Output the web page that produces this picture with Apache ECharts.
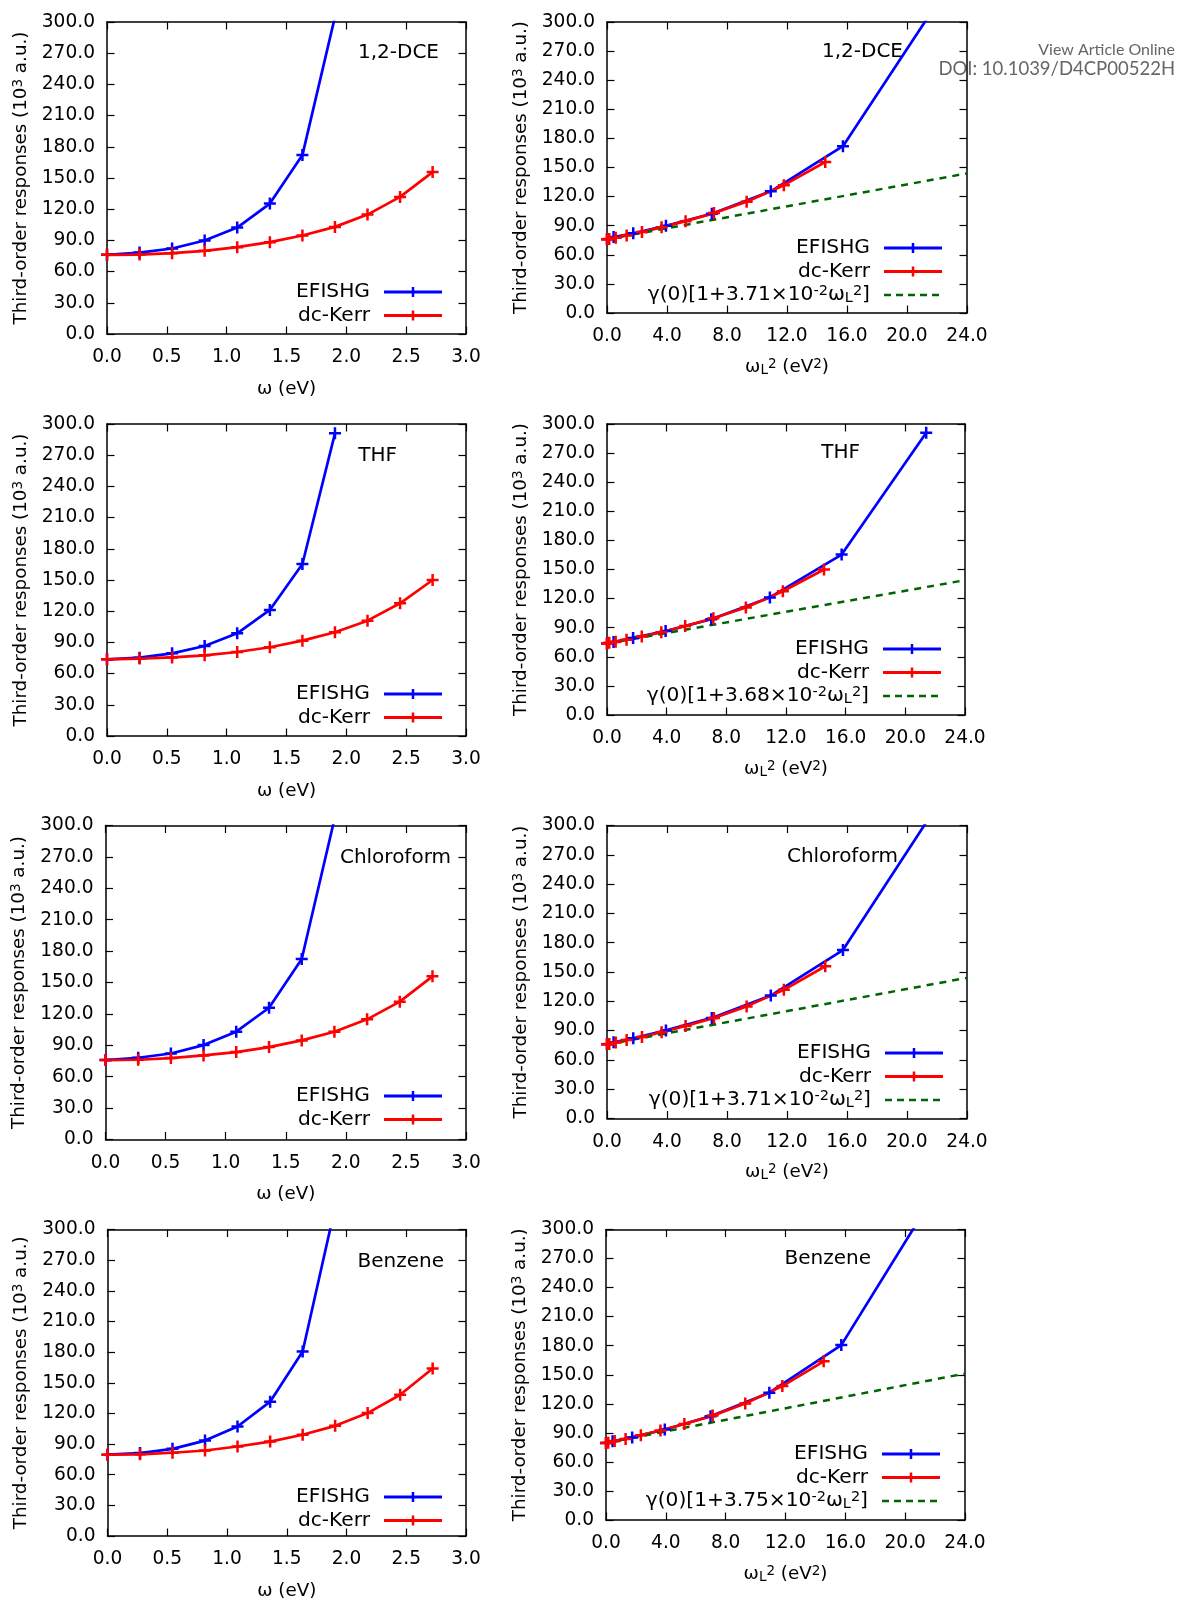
<!DOCTYPE html>
<html>
<head>
<meta charset="utf-8">
<script src="https://cdn.jsdelivr.net/npm/echarts@6/dist/echarts.min.js"></script>
<style>
  html, body { margin: 0; padding: 0; background: #fff; }
  #chart { width: 1179px; height: 1602px; }
</style>
</head>
<body>
<div id="chart"></div>
<script>
// x values: omega (eV) for the left panels, omega_L^2 (eV^2) for the right ones
const omega = [0, 0.272, 0.544, 0.816, 1.088, 1.361, 1.633, 1.905, 2.177, 2.449, 2.721];
const wL2Efishg = [0, 0.44, 1.75, 3.93, 6.99, 10.92, 15.73, 21.40];
const wL2Kerr = [0, 0.15, 0.58, 1.31, 2.33, 3.64, 5.24, 7.13, 9.31, 11.79, 14.55];
const fitX = [0, 24];

// third-order responses (10^3 a.u.)
const dceEfishg = [76.1, 78.3, 82.2, 89.9, 102.3, 125.4, 172.0, 305.0];
const dceKerr = [76.1, 76.4, 77.7, 80.0, 83.5, 88.3, 94.7, 103.0, 114.8, 131.8, 155.7];
const dceFit = [76.1, 143.9];

const thfEfishg = [73.7, 75.3, 79.5, 86.5, 98.7, 121.2, 165.4, 291.0];
const thfKerr = [73.7, 74.4, 75.6, 77.6, 80.8, 85.3, 91.7, 99.7, 110.9, 127.6, 150.0];
const thfFit = [73.7, 139.0];

const chlEfishg = [75.9, 78.1, 82.2, 90.2, 103.0, 125.9, 172.5, 306.0];
const chlKerr = [75.9, 76.2, 77.8, 80.3, 83.5, 88.3, 94.7, 103.0, 114.8, 131.7, 155.9];
const chlFit = [75.9, 144.0];

const bzEfishg = [79.6, 81.2, 85.3, 93.4, 107.2, 131.5, 180.6, 322.0];
const bzKerr = [79.6, 79.9, 81.5, 83.7, 87.6, 92.4, 99.1, 107.8, 120.3, 138.3, 163.9];
const bzFit = [79.6, 151.2];

const molecules = ['1,2-DCE', 'THF', 'Chloroform', 'Benzene'];
const fitCoef = ['3.71', '3.68', '3.71', '3.75'];

// axis ranges [min, max, interval]
const yRange = [0, 300, 30];
const xRangeW = [0, 3, 0.5];
const xRangeL = [0, 24, 4];

const FONT = 'DejaVu Sans';
const BLUE = '#0000ff', RED = '#ff0000', GREEN = '#006400';
const PLUS = 'path://M4.75,0H7.25V4.75H12V7.25H7.25V12H4.75V7.25H0V4.75H4.75Z';
const ICON_LINE = 'path://M0,3.6H58V6.4H0ZM27.75,0H30.25V10H27.75Z';
const ICON_DASH = 'path://M0,0h0.01v0.01h-0.01zM57.99,9.99h0.01v0.01h-0.01z' +
  'M0,3.75h7v2.5h-7zM12,3.75h7v2.5h-7zM24,3.75h7v2.5h-7zM36,3.75h7v2.5h-7zM48,3.75h7v2.5h-7z';

const rich = {
  sup: { fontSize: 14.5, lineHeight: 13, verticalAlign: 'top', fontFamily: FONT, color: '#000' },
  sub: { fontSize: 14.5, lineHeight: 13, verticalAlign: 'bottom', fontFamily: FONT, color: '#000' }
};
const axisRich = {
  sup: { fontSize: 13.5, lineHeight: 12, verticalAlign: 'top', fontFamily: FONT, color: '#000' },
  sub: { fontSize: 13.5, lineHeight: 12, verticalAlign: 'bottom', fontFamily: FONT, color: '#000' }
};

// layout per panel: grid [left, top, width, height], label [right, y], legend [right, top]
const layout = [
  { grid: [107, 22, 359, 312], label: [439, 53], legend: [737, 281] },
  { grid: [607, 22, 360, 291], label: [903, 52], legend: [237, 237] },
  { grid: [107, 424, 359, 312], label: [397, 456], legend: [737, 683] },
  { grid: [607, 424, 358, 291], label: [860, 453], legend: [238, 638] },
  { grid: [105.5, 825.5, 360.5, 314], label: [451, 858], legend: [737, 1085] },
  { grid: [607, 825.5, 360, 293], label: [898, 857], legend: [236, 1042] },
  { grid: [107.5, 1229.5, 358.5, 311.5], label: [444, 1262], legend: [737, 1486] },
  { grid: [606, 1229.5, 359, 290.5], label: [871, 1259], legend: [239, 1443] }
];

const data = [
  [dceEfishg, dceKerr, dceFit],
  [thfEfishg, thfKerr, thfFit],
  [chlEfishg, chlKerr, chlFit],
  [bzEfishg, bzKerr, bzFit]
];

const option = {
  animation: false,
  backgroundColor: '#fff',
  grid: [], xAxis: [], yAxis: [], series: [], legend: [],
  graphic: [
    { type: 'text', style: { text: 'View Article Online', x: 1175, y: 50, textAlign: 'right', textVerticalAlign: 'middle',
      fontSize: 16, fontFamily: 'Lato', fill: '#666' } },
    { type: 'text', style: { text: 'DOI: 10.1039/D4CP00522H', x: 1175, y: 69, textAlign: 'right', textVerticalAlign: 'middle',
      fontSize: 18.5, fontFamily: 'Lato', fill: '#666' } }
  ]
};

function axisBase(gi, r, position) {
  return {
    type: 'value', gridIndex: gi, position: position,
    min: r[0], max: r[1], interval: r[2],
    axisLine: { show: true, onZero: false, lineStyle: { color: '#000', width: 1.5 } },
    axisTick: { show: true, inside: true, length: 7.5, lineStyle: { color: '#000', width: 1.2 } },
    splitLine: { show: false },
    axisLabel: { show: false }
  };
}

function tickLabels(margin) {
  return { show: true, showMinLabel: true, showMaxLabel: true, margin: margin,
    fontSize: 18.6, fontFamily: FONT, color: '#000', formatter: v => v.toFixed(1) };
}

function fitName(c) {
  return 'γ(0)[1+' + c + '×10{sup|-2}ω{sub|L}{sup|2}]';
}

layout.forEach((L, p) => {
  const m = Math.floor(p / 2);
  const right = p % 2 === 1;
  const [eff, kerr, fit] = data[m];
  const gi = option.grid.length;
  option.grid.push({ left: L.grid[0], top: L.grid[1], width: L.grid[2], height: L.grid[3] });

  const xr = right ? xRangeL : xRangeW;
  const xi = option.xAxis.length;
  option.xAxis.push(Object.assign(axisBase(gi, xr, 'bottom'), {
    axisLabel: tickLabels(14),
    name: right ? 'ω{sub|L}{sup|2} (eV{sup|2})' : 'ω (eV)',
    nameLocation: 'middle', nameGap: right ? 44 : 45,
    nameTextStyle: { fontSize: 18.3, fontFamily: FONT, color: '#000', lineHeight: 20, rich: axisRich }
  }));
  option.xAxis.push(axisBase(gi, xr, 'top'));

  const yi = option.yAxis.length;
  option.yAxis.push(Object.assign(axisBase(gi, yRange, 'left'), {
    axisLabel: tickLabels(12),
    name: 'Third-order responses (10{sup|3} a.u.)',
    nameLocation: 'middle', nameGap: 76, nameRotate: 90,
    nameTextStyle: { fontSize: 18.3, fontFamily: FONT, color: '#000', lineHeight: 20, rich: axisRich }
  }));
  option.yAxis.push(axisBase(gi, yRange, 'right'));

  const xe = right ? wL2Efishg : omega;
  const xk = right ? wL2Kerr : omega;
  const lineSeries = (name, xs, ys, color) => ({
    name: name, type: 'line', xAxisIndex: xi, yAxisIndex: yi,
    data: ys.map((y, k) => [xs[k], y]),
    symbol: PLUS, symbolSize: 12, showSymbol: true,
    lineStyle: { color: color, width: 2.7 },
    itemStyle: { color: color, borderWidth: 0 },
    clip: true, silent: true, emphasis: { disabled: true }
  });
  option.series.push(lineSeries('EFISHG', xe, eff, BLUE));
  option.series.push(lineSeries('dc-Kerr', xk, kerr, RED));

  const legendData = [{ name: 'EFISHG', icon: ICON_LINE }, { name: 'dc-Kerr', icon: ICON_LINE }];
  if (right) {
    const fn = 'fit-' + fitCoef[m];
    option.series.push({
      name: fn, type: 'line', xAxisIndex: xi, yAxisIndex: yi,
      data: fit.map((y, k) => [fitX[k], y]),
      symbol: 'none', lineStyle: { color: GREEN, width: 2.5, type: [7, 6] },
      itemStyle: { color: GREEN },
      clip: true, silent: true, emphasis: { disabled: true }
    });
    legendData.push({ name: fn, icon: ICON_DASH });
  }

  option.legend.push({
    orient: 'vertical', align: 'right', right: L.legend[0], top: L.legend[1],
    itemWidth: 58, itemHeight: 10, itemGap: 1.5, padding: 0,
    selectedMode: false, itemStyle: { borderWidth: 0 },
    data: legendData,
    formatter: name => name.indexOf('fit-') === 0 ? fitName(name.slice(4)) : name,
    textStyle: { fontSize: 20.2, fontFamily: FONT, color: '#000', lineHeight: 22, padding: [0, 9, 0, 0], rich: rich }
  });

  option.graphic.push({
    type: 'text',
    style: { text: molecules[m], x: L.label[0], y: L.label[1], textAlign: 'right', textVerticalAlign: 'middle',
      fontSize: 20, fontFamily: FONT, fill: '#000' }
  });
});

const chart = echarts.init(document.getElementById('chart'), null, { renderer: 'canvas' });
chart.setOption(option);
</script>
</body>
</html>
